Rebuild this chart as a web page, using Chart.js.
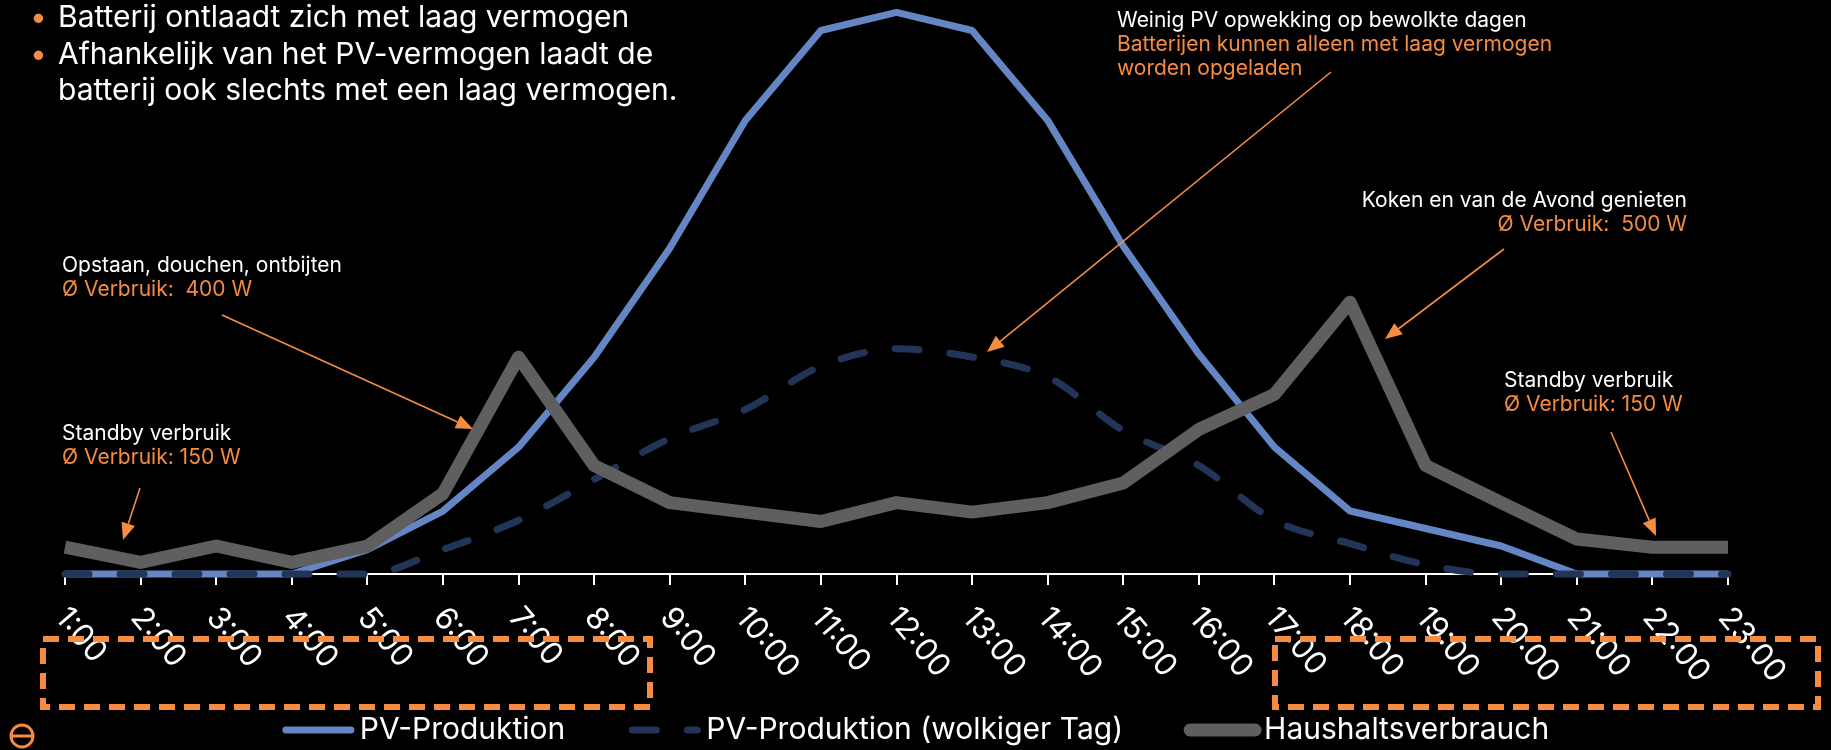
<!DOCTYPE html>
<html>
<head>
<meta charset="utf-8">
<script src="https://cdn.jsdelivr.net/npm/chart.js@4.4.1/dist/chart.umd.min.js"></script>
<style>
    html, body { margin: 0; padding: 0; background: #000; }
    #wrap { width: 1831px; height: 750px; position: relative; }
</style>
</head>
<body>
<div id="wrap"><canvas id="chart" width="1831" height="750"></canvas></div>
<script>
// hours of the day (x categories)
const hours = ['1:00', '2:00', '3:00', '4:00', '5:00', '6:00', '7:00', '8:00', '9:00', '10:00', '11:00', '12:00',
    '13:00', '14:00', '15:00', '16:00', '17:00', '18:00', '19:00', '20:00', '21:00', '22:00', '23:00'];

// values in W
const pvProduktion = [0, 0, 0, 0, 137, 353, 711, 1215, 1826, 2542, 3046, 3147, 3046, 2542, 1837, 1232, 711, 353, 255, 157, 0, 0, 0];
const pvWolkig = [0, 0, 0, 0, 0, 137, 301, 530, 759, 922, 1164, 1262, 1216, 1105, 804, 608, 301, 170, 52, 0, 0, 0, 0];
const haushalt = [150, 65, 157, 65, 157, 450, 1215, 608, 400, 347, 294, 400, 347, 400, 510, 810, 1007, 1523, 608, 400, 196, 150, 150];

const seriesNames = ['PV-Produktion', 'PV-Produktion (wolkiger Tag)', 'Haushaltsverbrauch'];

const bullets = ['Batterij ontlaadt zich met laag vermogen', 'Afhankelijk van het PV-vermogen laadt de', 'batterij ook slechts met een laag vermogen.'];

const ORANGE = '#f68c41';
const FONT = 'Inter, "Noto Sans", sans-serif';

// callout texts: [white line, orange lines...]
const notes = [
    {lines: ['Weinig PV opwekking op bewolkte dagen', 'Batterijen kunnen alleen met laag vermogen', 'worden opgeladen'], x: 1117, y: 21, align: 'left', arrow: [1331, 72, 987, 352]},
    {lines: ['Koken en van de Avond genieten', 'Ø Verbruik:  500 W'], x: 1687, y: 201, align: 'right', arrow: [1504, 249, 1385, 339]},
    {lines: ['Opstaan, douchen, ontbijten', 'Ø Verbruik:  400 W'], x: 62, y: 266, align: 'left', arrow: [222, 315, 473, 429]},
    {lines: ['Standby verbruik', 'Ø Verbruik: 150 W'], x: 62, y: 434, align: 'left', arrow: [140, 488, 123, 540]},
    {lines: ['Standby verbruik', 'Ø Verbruik: 150 W'], x: 1504, y: 381, align: 'left', arrow: [1611, 432, 1656, 536]}
];

function drawArrow(ctx, x1, y1, x2, y2) {
    const ang = Math.atan2(y2 - y1, x2 - x1);
    const len = 17, half = 7;
    ctx.save();
    ctx.strokeStyle = ORANGE;
    ctx.fillStyle = ORANGE;
    ctx.lineWidth = 1.6;
    ctx.beginPath();
    ctx.moveTo(x1, y1);
    ctx.lineTo(x2 - Math.cos(ang) * len, y2 - Math.sin(ang) * len);
    ctx.stroke();
    ctx.beginPath();
    ctx.moveTo(x2, y2);
    ctx.lineTo(x2 - Math.cos(ang) * len - Math.sin(ang) * half, y2 - Math.sin(ang) * len + Math.cos(ang) * half);
    ctx.lineTo(x2 - Math.cos(ang) * len + Math.sin(ang) * half, y2 - Math.sin(ang) * len - Math.cos(ang) * half);
    ctx.closePath();
    ctx.fill();
    ctx.restore();
}

function dashedBox(ctx, x1, y1, x2, y2) {
    ctx.save();
    ctx.strokeStyle = ORANGE;
    ctx.lineWidth = 6;
    ctx.setLineDash([16, 9]);
    ctx.strokeRect(x1, y1, x2 - x1, y2 - y1);
    ctx.restore();
}

const decor = {
    id: 'decor',
    afterDraw(chart) {
        const ctx = chart.ctx;
        const xScale = chart.scales.x;

        // rotated hour labels
        ctx.save();
        ctx.fillStyle = '#fff';
        ctx.font = '31px ' + FONT;
        ctx.textAlign = 'left';
        ctx.textBaseline = 'top';
        hours.forEach((h, i) => {
            const x = xScale.getPixelForValue(i);
            ctx.save();
            ctx.translate(x + 8, xScale.top + 28);
            ctx.rotate(Math.PI * 50 / 180);
            ctx.fillText(h, 0, 0);
            ctx.restore();
        });
        ctx.restore();

        dashedBox(ctx, 43, 639, 650, 707);
        dashedBox(ctx, 1275, 639, 1818, 707);

        // bullets top left
        ctx.save();
        ctx.font = '30px ' + FONT;
        ctx.textBaseline = 'middle';
        bullets.forEach((t, i) => {
            const y = [18, 55, 91][i];
            if (i < 2) {
                ctx.fillStyle = ORANGE;
                ctx.fillText('•', 30, y);
            }
            ctx.fillStyle = '#fff';
            ctx.fillText(t, 58, y);
        });
        ctx.restore();

        // callouts
        ctx.save();
        ctx.font = '21px ' + FONT;
        ctx.textBaseline = 'middle';
        notes.forEach(n => {
            ctx.textAlign = n.align;
            n.lines.forEach((t, i) => {
                ctx.fillStyle = i === 0 ? '#fff' : ORANGE;
                ctx.fillText(t, n.x, n.y + i * 24);
            });
            drawArrow(ctx, ...n.arrow);
        });
        ctx.restore();

        // legend
        ctx.save();
        ctx.font = '30px ' + FONT;
        ctx.textBaseline = 'middle';
        const lineLen = 73, gap = 5, pad = 63, ly = 730;
        const widths = chart.data.datasets.map(d => lineLen + gap + ctx.measureText(d.label).width);
        const total = widths.reduce((a, b) => a + b, 0) + pad * (widths.length - 1);
        let lx = (chart.width - total) / 2;
        chart.data.datasets.forEach((d, i) => {
            ctx.save();
            ctx.strokeStyle = d.borderColor;
            ctx.lineWidth = d.borderWidth;
            ctx.lineCap = 'round';
            ctx.setLineDash(d.borderDash || []);
            ctx.beginPath();
            ctx.moveTo(lx + 4, ly);
            ctx.lineTo(lx + lineLen - 4, ly);
            ctx.stroke();
            ctx.restore();
            ctx.fillStyle = '#fff';
            ctx.fillText(d.label, lx + lineLen + gap, ly);
            lx += widths[i] + pad;
        });
        ctx.restore();

        // small logo bottom left
        ctx.save();
        ctx.strokeStyle = ORANGE;
        ctx.lineWidth = 3;
        ctx.beginPath();
        ctx.arc(22, 736, 11, 0, Math.PI * 2);
        ctx.moveTo(11, 736);
        ctx.lineTo(33, 736);
        ctx.stroke();
        ctx.restore();
    }
};

new Chart(document.getElementById('chart'), {
    type: 'line',
    data: {
        labels: hours,
        datasets: [
            {
                label: seriesNames[0],
                data: pvProduktion,
                borderColor: '#6586c4',
                borderWidth: 7,
                borderJoinStyle: 'round',
                pointRadius: 0,
                order: 3,
                clip: false
            },
            {
                label: seriesNames[1],
                data: pvWolkig,
                borderColor: '#223457',
                borderWidth: 7,
                borderDash: [24, 31],
                borderCapStyle: 'round',
                cubicInterpolationMode: 'monotone',
                pointRadius: 0,
                order: 2,
                clip: false
            },
            {
                label: seriesNames[2],
                data: haushalt,
                borderColor: '#5f5f5f',
                borderWidth: 13,
                borderJoinStyle: 'round',
                pointRadius: 0,
                order: 1,
                clip: false
            }
        ]
    },
    options: {
        responsive: false,
        animation: false,
        devicePixelRatio: 1,
        layout: {padding: {left: 65, right: 103, top: 3, bottom: 165}},
        plugins: {legend: {display: false}, tooltip: {enabled: false}},
        scales: {
            x: {
                offset: false,
                ticks: {display: false},
                grid: {drawOnChartArea: false, color: '#fff', lineWidth: 2, tickLength: 11},
                border: {color: '#fff', width: 2}
            },
            y: {display: false, min: 0, max: 3200}
        }
    },
    plugins: [decor]
});
</script>
</body>
</html>
